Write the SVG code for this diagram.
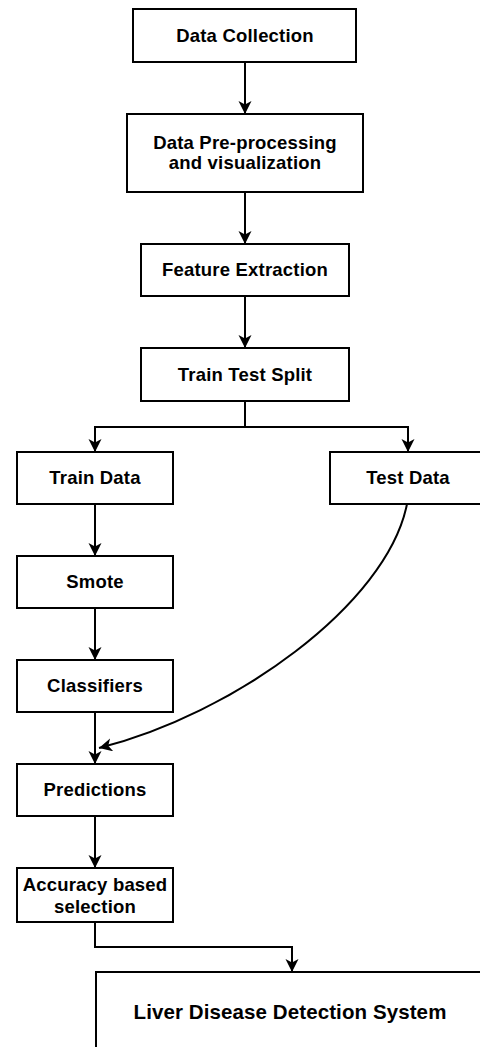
<svg xmlns="http://www.w3.org/2000/svg" width="480" height="1047" viewBox="0 0 480 1047">
  <defs>
    <marker id="arrow" markerUnits="userSpaceOnUse" markerWidth="16" markerHeight="16" refX="13" refY="6.5" orient="auto">
      <path d="M0,0 L13,6.5 L0,13 L3.5,6.5 Z" fill="#000"/>
    </marker>
    <style>
      .box { fill: #fff; stroke: #000; stroke-width: 2; }
      .lbl { font-family: "Liberation Sans", Arial, sans-serif; font-weight: bold; font-size: 18.5px; letter-spacing: 0.2px; fill: #000; text-anchor: middle; }
      .big { font-size: 20.5px; letter-spacing: 0.1px; }
      .edge { fill: none; stroke: #000; stroke-width: 2; marker-end: url(#arrow); }
    </style>
  </defs>
  <rect width="480" height="1047" fill="#fff"/>

  <!-- connectors -->
  <g id="connectors">
    <path class="edge" d="M245,62 V114"/>
    <path class="edge" d="M245,192 V244"/>
    <path class="edge" d="M245,296 V348"/>
    <path class="edge" d="M245,401 V427 H95 V452"/>
    <path class="edge" d="M245,427 H408 V452"/>
    <path class="edge" d="M95,504 V556"/>
    <path class="edge" d="M95,608 V660"/>
    <path class="edge" d="M95,712 V764"/>
    <path class="edge" d="M407,504 C387,605 232,715 99,748"/>
    <path class="edge" d="M95,816 V868"/>
    <path class="edge" d="M95,922 V947 H292 V972"/>
  </g>

  <g id="data-collection">
    <rect class="box" x="133" y="9" width="223" height="53"/>
    <text class="lbl" x="245" y="42">Data Collection</text>
  </g>
  <g id="preprocessing">
    <rect class="box" x="127" y="114" width="236" height="78"/>
    <text class="lbl" x="245" y="149">Data Pre-processing</text>
    <text class="lbl" x="245" y="169">and visualization</text>
  </g>
  <g id="feature-extraction">
    <rect class="box" x="141" y="244" width="208" height="52"/>
    <text class="lbl" x="245" y="276">Feature Extraction</text>
  </g>
  <g id="train-test-split">
    <rect class="box" x="141" y="348" width="208" height="53"/>
    <text class="lbl" x="245" y="381">Train Test Split</text>
  </g>
  <g id="train-data">
    <rect class="box" x="17" y="452" width="156" height="52"/>
    <text class="lbl" x="95" y="484">Train Data</text>
  </g>
  <g id="test-data">
    <rect class="box" x="330" y="452" width="156" height="52"/>
    <text class="lbl" x="408" y="484">Test Data</text>
  </g>
  <g id="smote">
    <rect class="box" x="17" y="556" width="156" height="52"/>
    <text class="lbl" x="95" y="588">Smote</text>
  </g>
  <g id="classifiers">
    <rect class="box" x="17" y="660" width="156" height="52"/>
    <text class="lbl" x="95" y="692">Classifiers</text>
  </g>
  <g id="predictions">
    <rect class="box" x="17" y="764" width="156" height="52"/>
    <text class="lbl" x="95" y="796">Predictions</text>
  </g>
  <g id="accuracy-selection">
    <rect class="box" x="17" y="868" width="156" height="54"/>
    <text class="lbl" x="95" y="891">Accuracy based</text>
    <text class="lbl" x="95" y="913">selection</text>
  </g>
  <g id="liver-system">
    <rect class="box" x="96" y="972" width="388" height="90"/>
    <text class="lbl big" x="290" y="1019">Liver Disease Detection System</text>
  </g>
</svg>
